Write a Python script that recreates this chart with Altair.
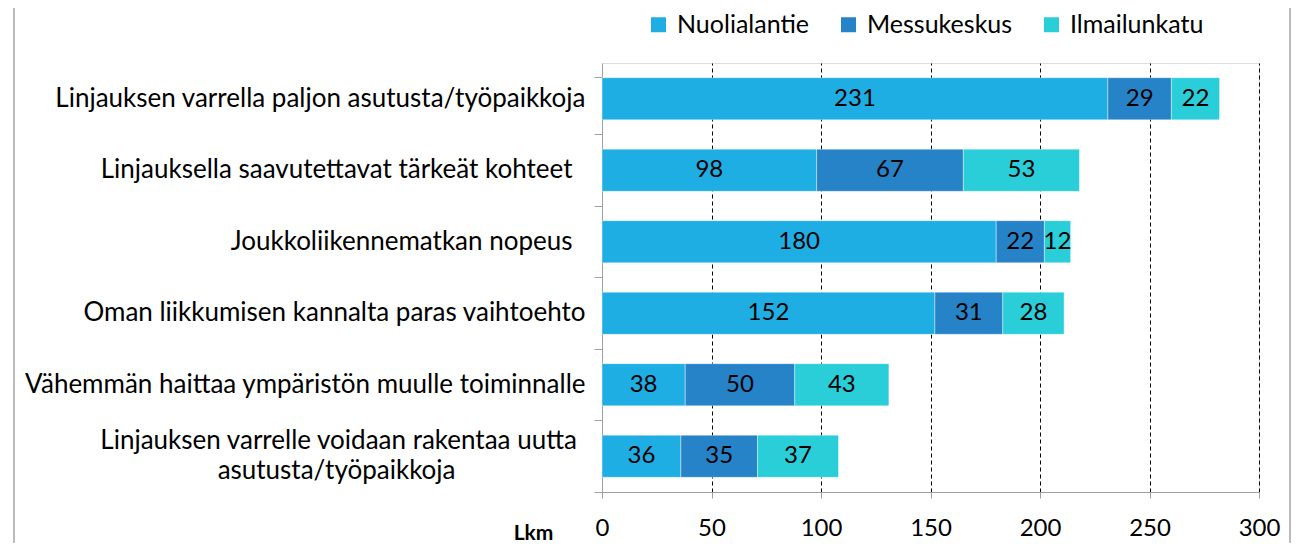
import altair as alt
import pandas as pd

categories = [
    "Linjauksen varrella paljon asutusta/työpaikkoja",
    "Linjauksella saavutettavat tärkeät kohteet",
    "Joukkoliikennematkan nopeus",
    "Oman liikkumisen kannalta paras vaihtoehto",
    "Vähemmän haittaa ympäristön muulle toiminnalle",
    "Linjauksen varrelle voidaan rakentaa uutta asutusta/työpaikkoja",
]
series = ["Nuolialantie", "Messukeskus", "Ilmailunkatu"]
nuolialantie = [231, 98, 180, 152, 38, 36]
messukeskus = [29, 67, 22, 31, 50, 35]
ilmailunkatu = [22, 53, 12, 28, 43, 37]
colors = ["#1FAEE4", "#2783C8", "#29CED8"]
x_ticks = [0, 50, 100, 150, 200, 250, 300]

rows = []
for i, cat in enumerate(categories):
    for j, (s, vals) in enumerate(zip(series, [nuolialantie, messukeskus, ilmailunkatu])):
        rows.append({"cat": cat, "series": s, "value": vals[i], "order": j})
df = pd.DataFrame(rows)

FONT = "Lato"
W, H = 657, 429
P_IN, P_OUT = 0.41, 0.205

# display labels (line breaks / spacing as in the original)
EM = "\u2003"
EN = "\u2002"
THIRD = "\u2004"
WJ = "\u2060"
label_map = {
    categories[1]: "'" + categories[1] + EN + WJ + "'",
    categories[2]: "'" + categories[2] + EN + WJ + "'",
    categories[5]: "['Linjauksen varrelle voidaan rakentaa uutta" + THIRD + WJ
    + "', 'asutusta/työpaikkoja" + EM * 6 + EN + WJ + "']",
}
expr = "datum.label"
for k, v in label_map.items():
    expr = f"datum.label == '{k}' ? {v} : (" + expr + ")"

# ticks on step boundaries: band end + half the inner padding
band_pos = 1 + (P_IN / 2) / (1 - P_IN)

y_enc = alt.Y(
    "cat:N",
    sort=categories,
    scale=alt.Scale(paddingInner=P_IN, paddingOuter=P_OUT),
    axis=alt.Axis(
        title=None,
        bandPosition=band_pos,
        tickExtra=True,
        labelExpr=expr,
        labelFont=FONT,
        labelFontSize=26,
        labelColor="black",
        labelLimit=0,
        labelPadding=9,
        labelLineHeight=30,
        labelBaseline="middle",
        labelOffset=alt.condition(f"datum.value == '{categories[5]}'", alt.value(-15), alt.value(0)),
        ticks=True,
        tickSize=8,
        tickColor="#A0A0A0",
        domainColor="#A0A0A0",
    ),
)

base = alt.Chart(df).transform_stack(
    stack="value", groupby=["cat"], sort=[alt.SortField("order")], as_=["x0", "x1"]
).transform_calculate(mid="(datum.x0 + datum.x1) / 2")

bars = base.mark_bar(stroke="white", strokeWidth=0.4).encode(
    x=alt.X(
        "x0:Q",
        scale=alt.Scale(domain=[0, 300], nice=False),
        axis=alt.Axis(
            values=x_ticks,
            title="Lkm",
            titleFont=FONT,
            titleFontSize=21,
            titleFontWeight="bold",
            titleColor="black",
            titleX=-69,
            titleY=51,
            titleAlign="center",
            titleBaseline="bottom",
            titleAngle=0,
            labelFont=FONT,
            labelFontSize=24,
            labelColor="black",
            labelPadding=18,
            labelFlush=False,
            tickSize=6,
            tickColor="#A0A0A0",
            domainColor="#A0A0A0",
            grid=True,
            gridColor="black",
            gridDash=[4, 3],
            gridWidth=1,
            gridOpacity=alt.condition("datum.value == 0", alt.value(0), alt.value(1)),
        ),
    ),
    x2="x1:Q",
    y=y_enc,
    color=alt.Color(
        "series:N",
        scale=alt.Scale(domain=series, range=colors),
        legend=alt.Legend(
            title=None,
            orient="none",
            legendX=44,
            legendY=-51,
            direction="horizontal",
            symbolType="square",
            symbolSize=225,
            symbolStrokeWidth=0,
            labelFont=FONT,
            labelFontSize=25,
            labelColor="black",
            labelOffset=6,
            columnPadding=26,
            labelLimit=0,
        ),
    ),
    order=alt.Order("order:Q"),
)

texts = base.mark_text(font=FONT, fontSize=24, color="black", baseline="middle").encode(
    x="mid:Q",
    y=alt.Y("cat:N", sort=categories),
    text="value:Q",
)

border = alt.Chart(alt.Data(values=[{}])).mark_rule(color="#A6A6A6", strokeWidth=1.5).encode(
    x=alt.value(-588), y=alt.value(-70), y2=alt.value(H + 70)
)
border2 = alt.Chart(alt.Data(values=[{}])).mark_rule(color="#A6A6A6", strokeWidth=1.5).encode(
    x=alt.value(688), y=alt.value(-70), y2=alt.value(H + 70)
)

chart = alt.layer(bars, texts, border, border2).properties(
    width=W,
    height=H,
    autosize=alt.AutoSizeParams(type="none"),
    padding={"left": 594, "top": 55, "right": 32, "bottom": 51},
).configure_view(stroke=None).configure(font=FONT)

chart.save("out.html", embed_options={"renderer": "svg", "actions": False})
